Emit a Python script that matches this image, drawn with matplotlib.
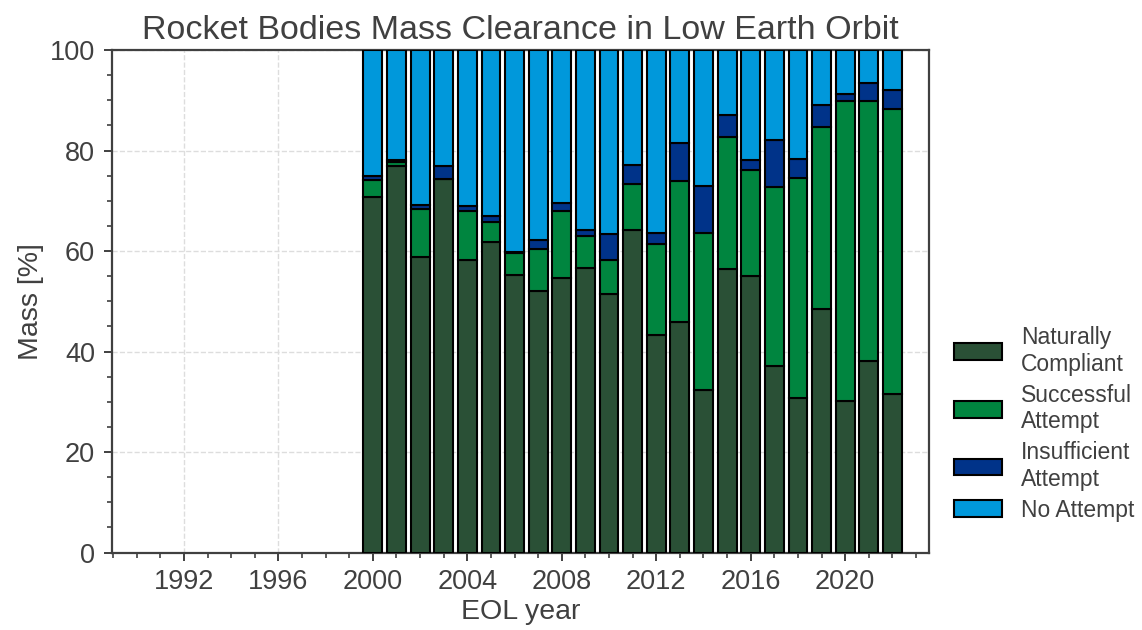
import numpy as np
import matplotlib.pyplot as plt
from matplotlib.ticker import MultipleLocator

plt.rcParams['font.family'] = ['Liberation Sans', 'DejaVu Sans']

# EOL years and mass shares [%] per clearance category
years = np.arange(2000, 2023)
naturally_compliant = [70.8, 77.0, 58.8, 74.3, 58.3, 61.8, 55.2, 52.0, 54.6, 56.7, 51.5, 64.1,
                       43.3, 45.8, 32.3, 56.5, 55.0, 37.2, 30.7, 48.5, 30.2, 38.2, 31.5]
successful_attempt = [3.3, 0.8, 9.5, 0.1, 9.6, 3.9, 4.4, 8.4, 13.3, 6.3, 6.8, 9.2,
                      18.1, 28.2, 31.3, 26.1, 21.1, 35.5, 43.8, 36.2, 59.7, 51.6, 56.7]
insufficient_attempt = [0.9, 0.3, 0.9, 2.5, 1.0, 1.2, 0.2, 1.8, 1.7, 1.1, 5.1, 3.8,
                        2.2, 7.4, 9.4, 4.4, 2.0, 9.4, 3.8, 4.3, 1.3, 3.6, 3.8]
no_attempt = [100 - a - b - c for a, b, c in zip(naturally_compliant, successful_attempt, insufficient_attempt)]

labels = ['Naturally\nCompliant', 'Successful\nAttempt', 'Insufficient\nAttempt', 'No Attempt']
colors = ['#2A5036', '#00853F', '#003389', '#0098DB']

text_col = '#404040'

fig = plt.figure(figsize=(11.42, 6.3), dpi=100)
ax = fig.add_axes([0.098, 0.123, 0.7155, 0.7976])

bottom = np.zeros(len(years))
for vals, lab, col in zip([naturally_compliant, successful_attempt, insufficient_attempt, no_attempt], labels, colors):
    ax.bar(years, vals, width=0.8, bottom=bottom, color=col, edgecolor='black', linewidth=1.5,
           label=lab, zorder=3)
    bottom += np.array(vals)

ax.set_xlim(1988.95, 2023.55)
ax.set_ylim(0, 100)
ax.xaxis.set_major_locator(MultipleLocator(4))
ax.xaxis.set_minor_locator(MultipleLocator(1))
ax.yaxis.set_major_locator(MultipleLocator(20))
ax.yaxis.set_minor_locator(MultipleLocator(5))

ax.grid(True, which='major', linestyle='--', color='#dddddd', linewidth=1.0, zorder=0)
for sp in ax.spines.values():
    sp.set_color(text_col)
    sp.set_linewidth(1.6)
ax.tick_params(which='major', length=6, width=1.4, color=text_col, labelsize=19.5, labelcolor=text_col, pad=6)
ax.tick_params(which='minor', length=3.5, width=1.2, color=text_col)

ax.set_xlabel('EOL year', fontsize=20.5, color=text_col, labelpad=3)
ax.set_ylabel('Mass [%]', fontsize=20.5, color=text_col)
ax.set_title('Rocket Bodies Mass Clearance in Low Earth Orbit', fontsize=24.5, color=text_col, pad=8)

leg = ax.legend(loc='lower left', bbox_to_anchor=(1.005, 0.02), frameon=False, fontsize=16.5,
                handlelength=2.1, handleheight=0.75, handletextpad=0.85, labelspacing=0.35)
for t in leg.get_texts():
    t.set_color(text_col)

fig.savefig('out.png', dpi=100)
